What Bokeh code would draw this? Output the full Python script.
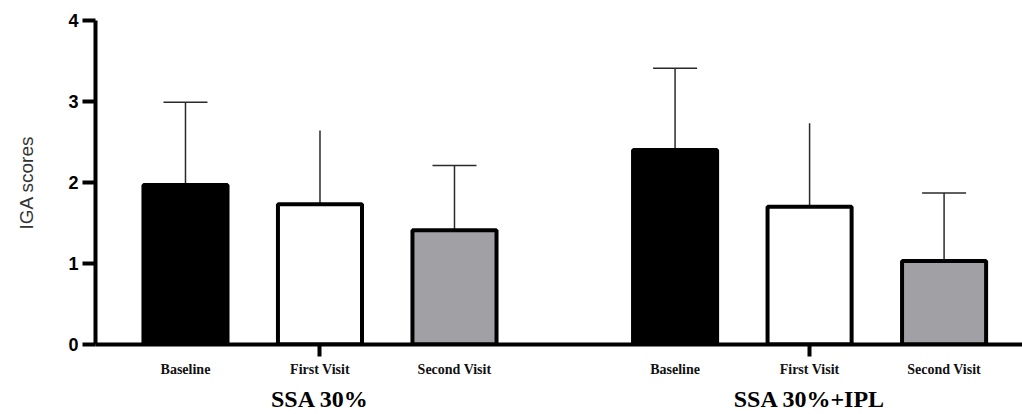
from bokeh.plotting import figure
from bokeh.models import Range1d, FixedTicker, ColumnDataSource, LinearAxis
from bokeh.embed import file_html
from bokeh.resources import INLINE

# ---- data ----
groups = ["SSA 30%", "SSA 30%+IPL"]
categories = ["Baseline", "First Visit", "Second Visit"]
mean_ssa = [1.97, 1.73, 1.41]
mean_ssa_ipl = [2.40, 1.70, 1.03]
sd_ssa = [1.02, 0.92, 0.80]
sd_ssa_ipl = [1.01, 1.04, 0.84]
y_ticks = [0, 1, 2, 3, 4]
y_title = "IGA scores"

# ---- styles ----
fill_colors = ["#000000", "#ffffff", "#a1a1a5"]
cap_colors = ["#2a2a2a", "#ffffff", "#2a2a2a"]
GROUP_STEP = 3.64

means = [mean_ssa, mean_ssa_ipl]
sds = [sd_ssa, sd_ssa_ipl]

xs, tops, uppers, fills, caps, cats = [], [], [], [], [], []
for gi, g in enumerate(groups):
    for ci, c in enumerate(categories):
        xs.append(round(gi * GROUP_STEP + ci, 3))
        tops.append(means[gi][ci])
        uppers.append(means[gi][ci] + sds[gi][ci])
        fills.append(fill_colors[ci])
        caps.append(cap_colors[ci])
        cats.append(c)

group_centers = [round(gi * GROUP_STEP + (len(categories) - 1) / 2, 3) for gi in range(len(groups))]

src = ColumnDataSource(dict(x=xs, top=tops, upper=uppers, fill=fills, cap=caps, cat=cats))

p = figure(width=1022, height=414,
           x_range=Range1d(-0.669, 6.223), y_range=Range1d(0, 4),
           output_backend="svg", toolbar_location=None,
           min_border_left=95, min_border_right=0,
           min_border_top=20, min_border_bottom=69)
p.outline_line_color = None
p.grid.visible = False
p.background_fill_color = "white"

# error bar stems and caps
p.segment(x0="x", y0="top", x1="x", y1="upper", source=src,
          line_color="#2a2a2a", line_width=1.5)
p.scatter(x="x", y="upper", source=src, marker="dash", size=44,
          line_color="cap", line_width=1.5)

# bars
p.vbar(x="x", top="top", bottom=0, width=0.625, source=src,
       fill_color="fill", line_color="black", line_width=4)

# y axis
ya = p.yaxis[0]
ya.ticker = FixedTicker(ticks=y_ticks)
ya.axis_line_width = 4
ya.major_tick_line_width = 4
ya.major_tick_in = 0
ya.major_tick_out = 13
ya.minor_tick_line_color = None
ya.major_label_text_font = "Liberation Sans"
ya.major_label_text_font_style = "bold"
ya.major_label_text_font_size = "18px"
ya.major_label_text_color = "black"
ya.major_label_standoff = 4
ya.axis_label = y_title
ya.axis_label_text_font = "Liberation Sans"
ya.axis_label_text_font_style = "normal"
ya.axis_label_text_font_size = "19px"
ya.axis_label_text_color = "#333333"
ya.axis_label_standoff = 28

# main x axis: category labels at bar centres, tick marks (minor) at group centres
xa = p.xaxis[0]
xa.ticker = FixedTicker(ticks=xs, minor_ticks=group_centers)
xa.major_label_overrides = {x: c for x, c in zip(xs, cats)}
xa.axis_line_width = 4
xa.major_tick_line_color = None
xa.major_tick_in = 0
xa.major_tick_out = 0
xa.minor_tick_line_color = "black"
xa.minor_tick_line_width = 4
xa.minor_tick_in = 0
xa.minor_tick_out = 12
xa.major_label_standoff = 5
xa.major_label_text_font = "Liberation Serif"
xa.major_label_text_font_style = "bold"
xa.major_label_text_font_size = "14px"
xa.major_label_text_color = "#111111"

# group labels axis
xg = LinearAxis(ticker=FixedTicker(ticks=group_centers),
                major_label_overrides={gc: g for gc, g in zip(group_centers, groups)})
xg.axis_line_color = None
xg.major_tick_line_color = None
xg.minor_tick_line_color = None
xg.major_tick_in = 0
xg.major_tick_out = 0
xg.major_label_standoff = 6
xg.major_label_text_font = "Liberation Serif"
xg.major_label_text_font_style = "bold"
xg.major_label_text_font_size = "24px"
xg.major_label_text_color = "black"
p.add_layout(xg, "below")

open("out.html", "w").write(file_html(p, INLINE))
